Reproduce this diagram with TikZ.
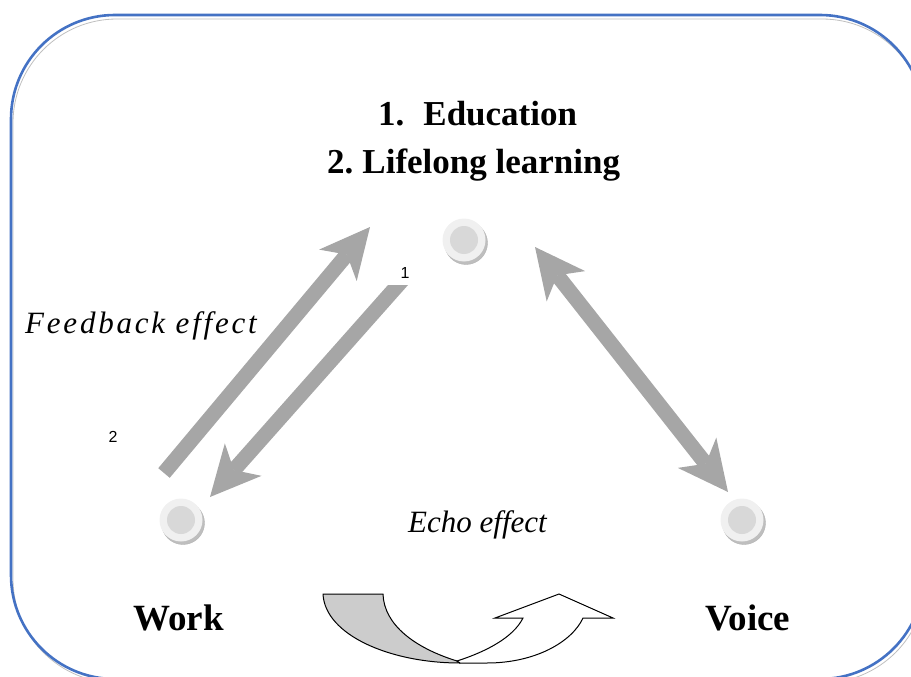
\documentclass[tikz,border=0pt]{standalone}
\usepackage{fontspec}
\setmainfont{Liberation Serif}
\newfontfamily\lblsans{Liberation Sans}
\usetikzlibrary{arrows.meta}
\definecolor{frameblue}{RGB}{68,114,196}
\definecolor{arrgray}{RGB}{166,166,166}
\definecolor{discout}{RGB}{240,240,240}
\definecolor{discin}{RGB}{216,216,216}
\definecolor{discrim}{RGB}{190,190,190}
\definecolor{echogray}{RGB}{204,204,204}
\begin{document}
\begin{tikzpicture}[x=1pt,y=-1pt,
  bigarrow/.style={draw=arrgray, line width=15pt, >={Stealth[length=50pt,width=49pt,inset=14pt,line width=0pt]}},
  disc/.style={circle, fill=discout, minimum size=43pt, inner sep=0pt,
    path picture={\fill[discin] (path picture bounding box.center) circle (14pt);}},
  rim/.style={fill=discrim, draw=gray!60, line width=0.4pt},
  titletext/.style={font=\fontsize{35}{40}\selectfont\bfseries, inner sep=0pt},
  bigbold/.style={font=\fontsize{37}{42}\selectfont\bfseries, inner sep=0pt},
  itext/.style={font=\fontsize{31}{36}\selectfont\itshape, inner sep=0pt},
  smalllbl/.style={font=\lblsans\fontsize{16}{18}\selectfont, inner sep=0pt}]
\useasboundingbox (0,0) rectangle (911,677);
\begin{scope}
\clip (0,0) rectangle (911,677);
% frame with faint shadow
\draw[gray!50, line width=0.8pt, rounded corners=104pt] (13,19) rectangle (926,683);
\draw[frameblue, line width=2.6pt, rounded corners=104pt] (11,15) rectangle (924,679);
\end{scope}

% disc positions
\coordinate (pedu) at (464,240);
\coordinate (pwork) at (181,520);
\coordinate (pvoice) at (742,520);
\foreach \p in {pedu,pwork,pvoice}
  \path[rim] ([shift={(2,3)}]\p) circle (21.5pt);
\node[disc] (edu) at (pedu) {};
\node[disc] (work) at (pwork) {};
\node[disc] (voice) at (pvoice) {};

% texts
\node[titletext, anchor=base west] (t1) at (378,125) {1.\hspace{19pt}Education};
\node[titletext, anchor=base west] (t2) at (327,173) {2.\hspace{9pt}Lifelong learning};
\node[itext, anchor=base west] (fb) at (25,333) {\addfontfeature{LetterSpace=9}Feedback effect};
\node[itext, anchor=base west] (echo) at (408,532) {Echo effect};
\node[bigbold, anchor=base west] (wk) at (133,630) {Work};
\node[bigbold, anchor=base west] (vc) at (705,630) {Voice};
\node[smalllbl] (n1) at (405,273) {1};
\node[smalllbl] (n2) at (113,437) {2};

% arrows
\coordinate (a1s) at (164,473);
\coordinate (a1e) at (370,227);
\draw[bigarrow, ->] (a1s) -- (a1e);

\coordinate (a2s) at (406,276);
\coordinate (a2e) at (210,497);
\begin{scope}
\clip (0,285) rectangle (911,677);
\draw[bigarrow, ->] (a2s) -- (a2e);
\end{scope}

\coordinate (a3s) at (535,247);
\coordinate (a3e) at (728,492);
\draw[bigarrow, <->] (a3s) -- (a3e);

% echo curved arrow
\coordinate (e1) at (323,594);
\coordinate (e2) at (383,594);
\coordinate (ex) at (457,661);
\filldraw[fill=echogray, draw=black, line width=1pt, line join=round]
  (e1) -- (e2) .. controls (384,625) and (415,648) .. (ex)
  -- (460,663) .. controls (390,663) and (325,635) .. (e1) -- cycle;
\filldraw[fill=white, draw=black, line width=1pt, line join=miter]
  (ex) .. controls (485,652) and (513,638) .. (523,618)
  -- (495,618) -- (559,594) -- (613,618) -- (583,618)
  .. controls (572,642) and (535,663) .. (487,663) -- (460,663) -- cycle;
\end{tikzpicture}
\end{document}
